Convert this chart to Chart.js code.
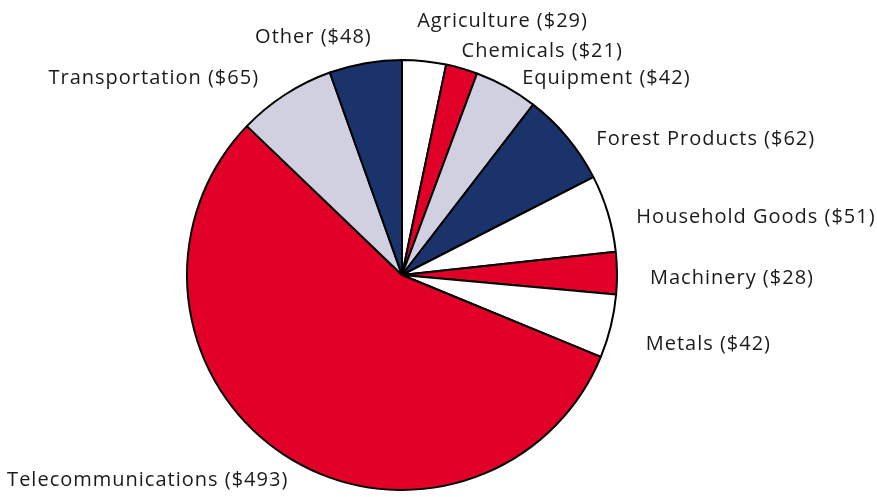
<!DOCTYPE html>
<html>
<head>
<meta charset="utf-8">
<script src="https://cdn.jsdelivr.net/npm/chart.js@4"></script>
<style>
  html, body { margin: 0; padding: 0; background: #ffffff; }
  #wrap { width: 877px; height: 497px; }
</style>
</head>
<body>
<div id="wrap"><canvas id="piechart" width="877" height="497"></canvas></div>
<script>
const categories = [
    'Agriculture', 'Chemicals', 'Equipment', 'Forest Products', 'Household Goods',
    'Machinery', 'Metals', 'Telecommunications', 'Transportation', 'Other'
];
const amounts = [29, 21, 42, 62, 51, 28, 42, 493, 65, 48];

const RED = '#e00028';
const NAVY = '#1b336b';
const GREY = '#d0d0e0';
const WHITE = '#ffffff';
const sliceColors = [WHITE, RED, GREY, NAVY, WHITE, RED, WHITE, RED, GREY, NAVY];

// small nudges so the labels sit where the original put them
const labelNudge = [
    [-11, -1], [-11, 20], [-3, 25], [-1, 27], [-9, 15],
    [-6, 6], [-3, 9], [25, -7], [-5, 17], [13, 13]
];

const outsideLabels = {
    id: 'outsideLabels',
    afterDatasetsDraw(chart) {
        const ctx = chart.ctx;
        const arcs = chart.getDatasetMeta(0).data;
        ctx.save();
        ctx.font = '20px "Open Sans", sans-serif';
        ctx.letterSpacing = '1px';
        ctx.fillStyle = '#1a1a1a';
        ctx.textBaseline = 'middle';
        arcs.forEach((arc, i) => {
            const p = arc.getProps(['x', 'y', 'startAngle', 'endAngle', 'outerRadius'], true);
            const mid = (p.startAngle + p.endAngle) / 2;
            const r = p.outerRadius + 39;
            const x = p.x + Math.cos(mid) * r + labelNudge[i][0];
            const y = p.y + Math.sin(mid) * r + labelNudge[i][1];
            ctx.textAlign = Math.cos(mid) >= 0 ? 'left' : 'right';
            ctx.fillText(categories[i] + ' ($' + amounts[i] + ')', x, y);
        });
        ctx.restore();
    }
};

const ctx = document.getElementById('piechart').getContext('2d');
const piechart = new Chart(ctx, {
    type: 'pie',
    data: {
        labels: categories,
        datasets: [{
            data: amounts,
            backgroundColor: sliceColors,
            borderColor: '#000000',
            borderWidth: 2
        }]
    },
    options: {
        responsive: false,
        animation: false,
        layout: {
            padding: { left: 0, right: 73, top: 59, bottom: 6 }
        },
        plugins: {
            legend: { display: false },
            tooltip: { enabled: false }
        }
    },
    plugins: [outsideLabels]
});
</script>
</body>
</html>
